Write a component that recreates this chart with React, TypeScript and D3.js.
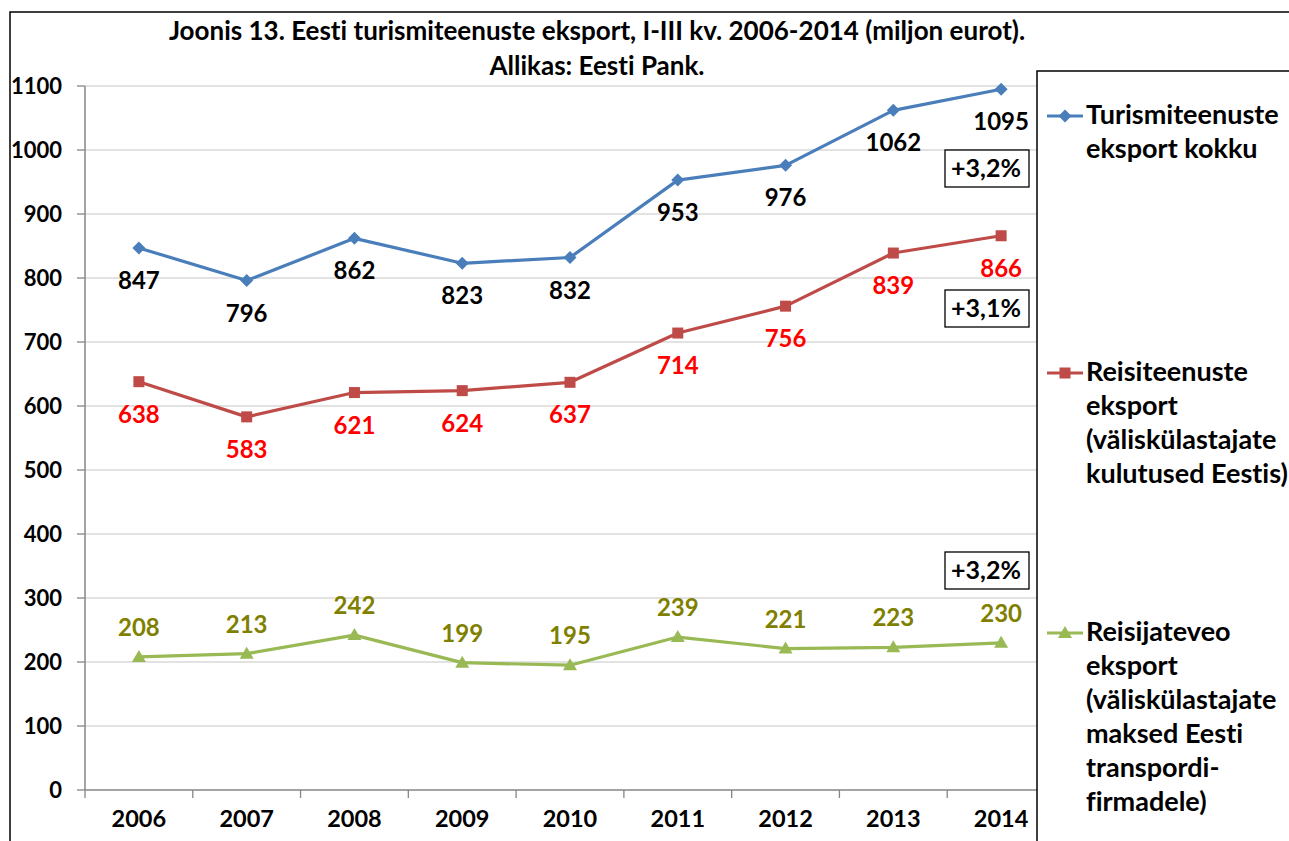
import React from "react";
import * as d3 from "d3";

const years = ["2006", "2007", "2008", "2009", "2010", "2011", "2012", "2013", "2014"];
const totalExport = [847, 796, 862, 823, 832, 953, 976, 1062, 1095];
const travelExport = [638, 583, 621, 624, 637, 714, 756, 839, 866];
const transportExport = [208, 213, 242, 199, 195, 239, 221, 223, 230];
const yTicks = [0, 100, 200, 300, 400, 500, 600, 700, 800, 900, 1000, 1100];
const titleLines = [
  "Joonis 13. Eesti turismiteenuste eksport, I-III kv. 2006-2014 (miljon eurot).",
  "Allikas: Eesti Pank.",
];
const legendTotal = ["Turismiteenuste", "eksport kokku"];
const legendTravel = ["Reisiteenuste", "eksport", "(väliskülastajate", "kulutused Eestis)"];
const legendTransport = ["Reisijateveo", "eksport", "(väliskülastajate", "maksed Eesti", "transpordi-", "firmadele)"];
const growthLabels = ["+3,2%", "+3,1%", "+3,2%"];

const FONT = "Lato, 'Open Sans', sans-serif";

export default function App() {
  const W = 1289, H = 841;
  const left = 85, right = 1055, top = 86, bottom = 790;
  const x = d3.scaleBand<string>().domain(years).range([left, right]).padding(0);
  const y = d3.scaleLinear().domain([0, 1100]).range([bottom, top]);
  const cx = (yr: string) => (x(yr) as number) + x.bandwidth() / 2;
  const line = d3.line<number>().x((_, i) => cx(years[i])).y((v) => y(v));

  const series = [
    { data: totalExport, color: "#4a7ebb", label: "#000000", marker: "diamond", dy: 41 },
    { data: travelExport, color: "#be4b48", label: "#ff0000", marker: "square", dy: 41 },
    { data: transportExport, color: "#98b954", label: "#808000", marker: "triangle", dy: -21 },
  ];

  const marker = (kind: string, px: number, py: number, color: string, key: string) => {
    if (kind === "diamond") {
      const s = 6.5;
      return <path key={key} d={`M${px},${py - s}L${px + s},${py}L${px},${py + s}L${px - s},${py}Z`} fill={color} />;
    }
    if (kind === "square") {
      const s = 5.5;
      return <rect key={key} x={px - s} y={py - s} width={2 * s} height={2 * s} fill={color} />;
    }
    const s = 7;
    return <path key={key} d={`M${px},${py - s}L${px + s},${py + s - 2}L${px - s},${py + s - 2}Z`} fill={color} />;
  };

  const legendEntries = [
    { lines: legendTotal, y0: 116, s: series[0] },
    { lines: legendTravel, y0: 373, s: series[1] },
    { lines: legendTransport, y0: 633, s: series[2] },
  ];
  const growthBoxes = [
    { text: growthLabels[0], y0: 150 },
    { text: growthLabels[1], y0: 290 },
    { text: growthLabels[2], y0: 552 },
  ];

  return (
    <svg width={W} height={H} style={{ position: "absolute", left: 0, top: 0, display: "block", fontVariantLigatures: "none" }} fontFamily={FONT}>
      <rect x={0} y={0} width={W} height={H} fill="#ffffff" />
      <rect x={10} y={12} width={W + 50} height={H + 50} fill="#ffffff" stroke="#000" strokeWidth={1.5} />
      {titleLines.map((t, i) => (
        <text key={t} x={597} y={i === 0 ? 40 : 75} textAnchor="middle" fontWeight="bold" fontSize={26} fill="#000">
          {t}
        </text>
      ))}
      {yTicks.map((t) => (
        <g key={t}>
          {t > 0 && <line x1={left} x2={right} y1={y(t)} y2={y(t)} stroke="#d9d9d9" strokeWidth={1.3} />}
          <line x1={77} x2={left} y1={y(t)} y2={y(t)} stroke="#868686" strokeWidth={1.3} />
          <text x={62} y={y(t) + 7.5} textAnchor="end" fontWeight="bold" fontSize={22} fill="#000">{t}</text>
        </g>
      ))}
      <line x1={left} x2={left} y1={top} y2={bottom} stroke="#868686" strokeWidth={1.5} />
      <line x1={left} x2={right} y1={bottom} y2={bottom} stroke="#868686" strokeWidth={1.5} />
      {years.map((yr) => (
        <g key={yr}>
          <line x1={x(yr) as number} x2={x(yr) as number} y1={bottom} y2={bottom + 8} stroke="#868686" strokeWidth={1.3} />
          <text x={cx(yr)} y={827} textAnchor="middle" fontWeight="bold" fontSize={23.5} fill="#000">{yr}</text>
        </g>
      ))}
      {series.map((s, si) => (
        <g key={si}>
          <path d={line(s.data) as string} fill="none" stroke={s.color} strokeWidth={3.2} strokeLinejoin="round" />
          {s.data.map((v, i) => marker(s.marker, cx(years[i]), y(v), s.color, `m${i}`))}
          {s.data.map((v, i) => (
            <text key={`l${i}`} x={cx(years[i])} y={y(v) + s.dy} textAnchor="middle" fontWeight="bold" fontSize={24} fill={s.label}>
              {v}
            </text>
          ))}
        </g>
      ))}
      {growthBoxes.map((b, i) => (
        <g key={i}>
          <rect x={945} y={b.y0} width={84} height={37} fill="#fff" stroke="#000" strokeWidth={1.3} />
          <text x={986} y={b.y0 + 27} textAnchor="middle" fontWeight="bold" fontSize={25} fill="#000">{b.text}</text>
        </g>
      ))}
      <rect x={1037} y={71} width={300} height={800} fill="#fff" stroke="#000" strokeWidth={1.5} />
      {legendEntries.map((e, i) => (
        <g key={i}>
          <line x1={1047} x2={1083} y1={e.y0} y2={e.y0} stroke={e.s.color} strokeWidth={3.2} />
          {marker(e.s.marker, 1065, e.y0, e.s.color, "lm")}
          {e.lines.map((t, j) => (
            <text key={j} x={1086} y={e.y0 + 8 + j * 34} fontWeight="bold" fontSize={27} fill="#000">{t}</text>
          ))}
        </g>
      ))}
    </svg>
  );
}
